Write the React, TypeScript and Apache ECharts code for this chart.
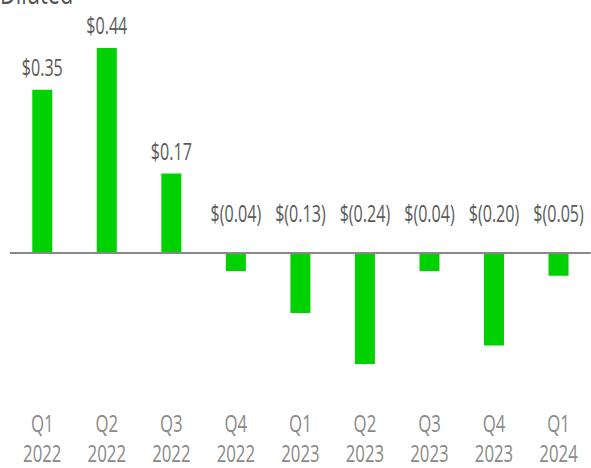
import React, { useEffect, useRef } from "react";
import * as echarts from "echarts";

const quarters = ["Q1", "Q2", "Q3", "Q4", "Q1", "Q2", "Q3", "Q4", "Q1"];
const years = ["2022", "2022", "2022", "2022", "2023", "2023", "2023", "2023", "2024"];
const eps = [0.35, 0.44, 0.17, -0.04, -0.13, -0.24, -0.04, -0.2, -0.05];
const title = "Diluted";

const FONT = "'Open Sans', 'Noto Sans', sans-serif";
// the reference's type is tall and narrow: draw wide, then squeeze horizontally
const SX = 0.7;
const W = 591;
const H = 468;

function fmt(v: number): string {
  return v < 0 ? `$(${Math.abs(v).toFixed(2)})` : `$${v.toFixed(2)}`;
}

export default function App() {
  const ref = useRef<HTMLDivElement>(null);
  useEffect(() => {
    if (!ref.current) return;
    const chart = echarts.init(ref.current, undefined, { renderer: "svg" });
    const categories = quarters.map((q, i) => `${q}\n${years[i]}`);
    chart.setOption({
      animation: false,
      grid: { left: 10 / SX, right: -4 / SX, top: 20, bottom: 76 },
      graphic: [
        {
          type: "text",
          left: 0,
          top: -24,
          style: { text: title, fontSize: 31, fontFamily: FONT, fill: "#555" },
        },
      ],
      xAxis: {
        type: "category",
        data: categories,
        axisLine: { show: false, onZero: false },
        axisTick: { show: false },
        axisLabel: {
          fontSize: 24,
          lineHeight: 30,
          color: "#8a8a8a",
          fontFamily: FONT,
          margin: 16,
        },
      },
      yAxis: {
        type: "value",
        min: -0.3,
        max: 0.5,
        show: false,
        splitLine: { show: false },
      },
      series: [
        {
          type: "bar",
          barWidth: 20 / SX,
          itemStyle: { color: "#00d100" },
          data: eps.map((v) => ({
            value: v,
            label: {
              show: true,
              position: "top",
              distance: v < 0 ? 28 : 11,
              formatter: () => fmt(v),
              fontSize: 23,
              color: "#5a5a5a",
              fontFamily: FONT,
            },
          })),
          markLine: {
            silent: true,
            symbol: "none",
            label: { show: false },
            lineStyle: { color: "#888", width: 2, type: "solid" },
            data: [{ yAxis: 0 }],
          },
        },
      ],
    });
    return () => chart.dispose();
  }, []);
  return (
    <div style={{ position: "fixed", left: 0, top: 0, width: W, height: H, overflow: "hidden", background: "#fff" }}>
      <div
        ref={ref}
        style={{
          width: W / SX,
          height: H,
          transform: `scaleX(${SX})`,
          transformOrigin: "0 0",
        }}
      />
    </div>
  );
}
